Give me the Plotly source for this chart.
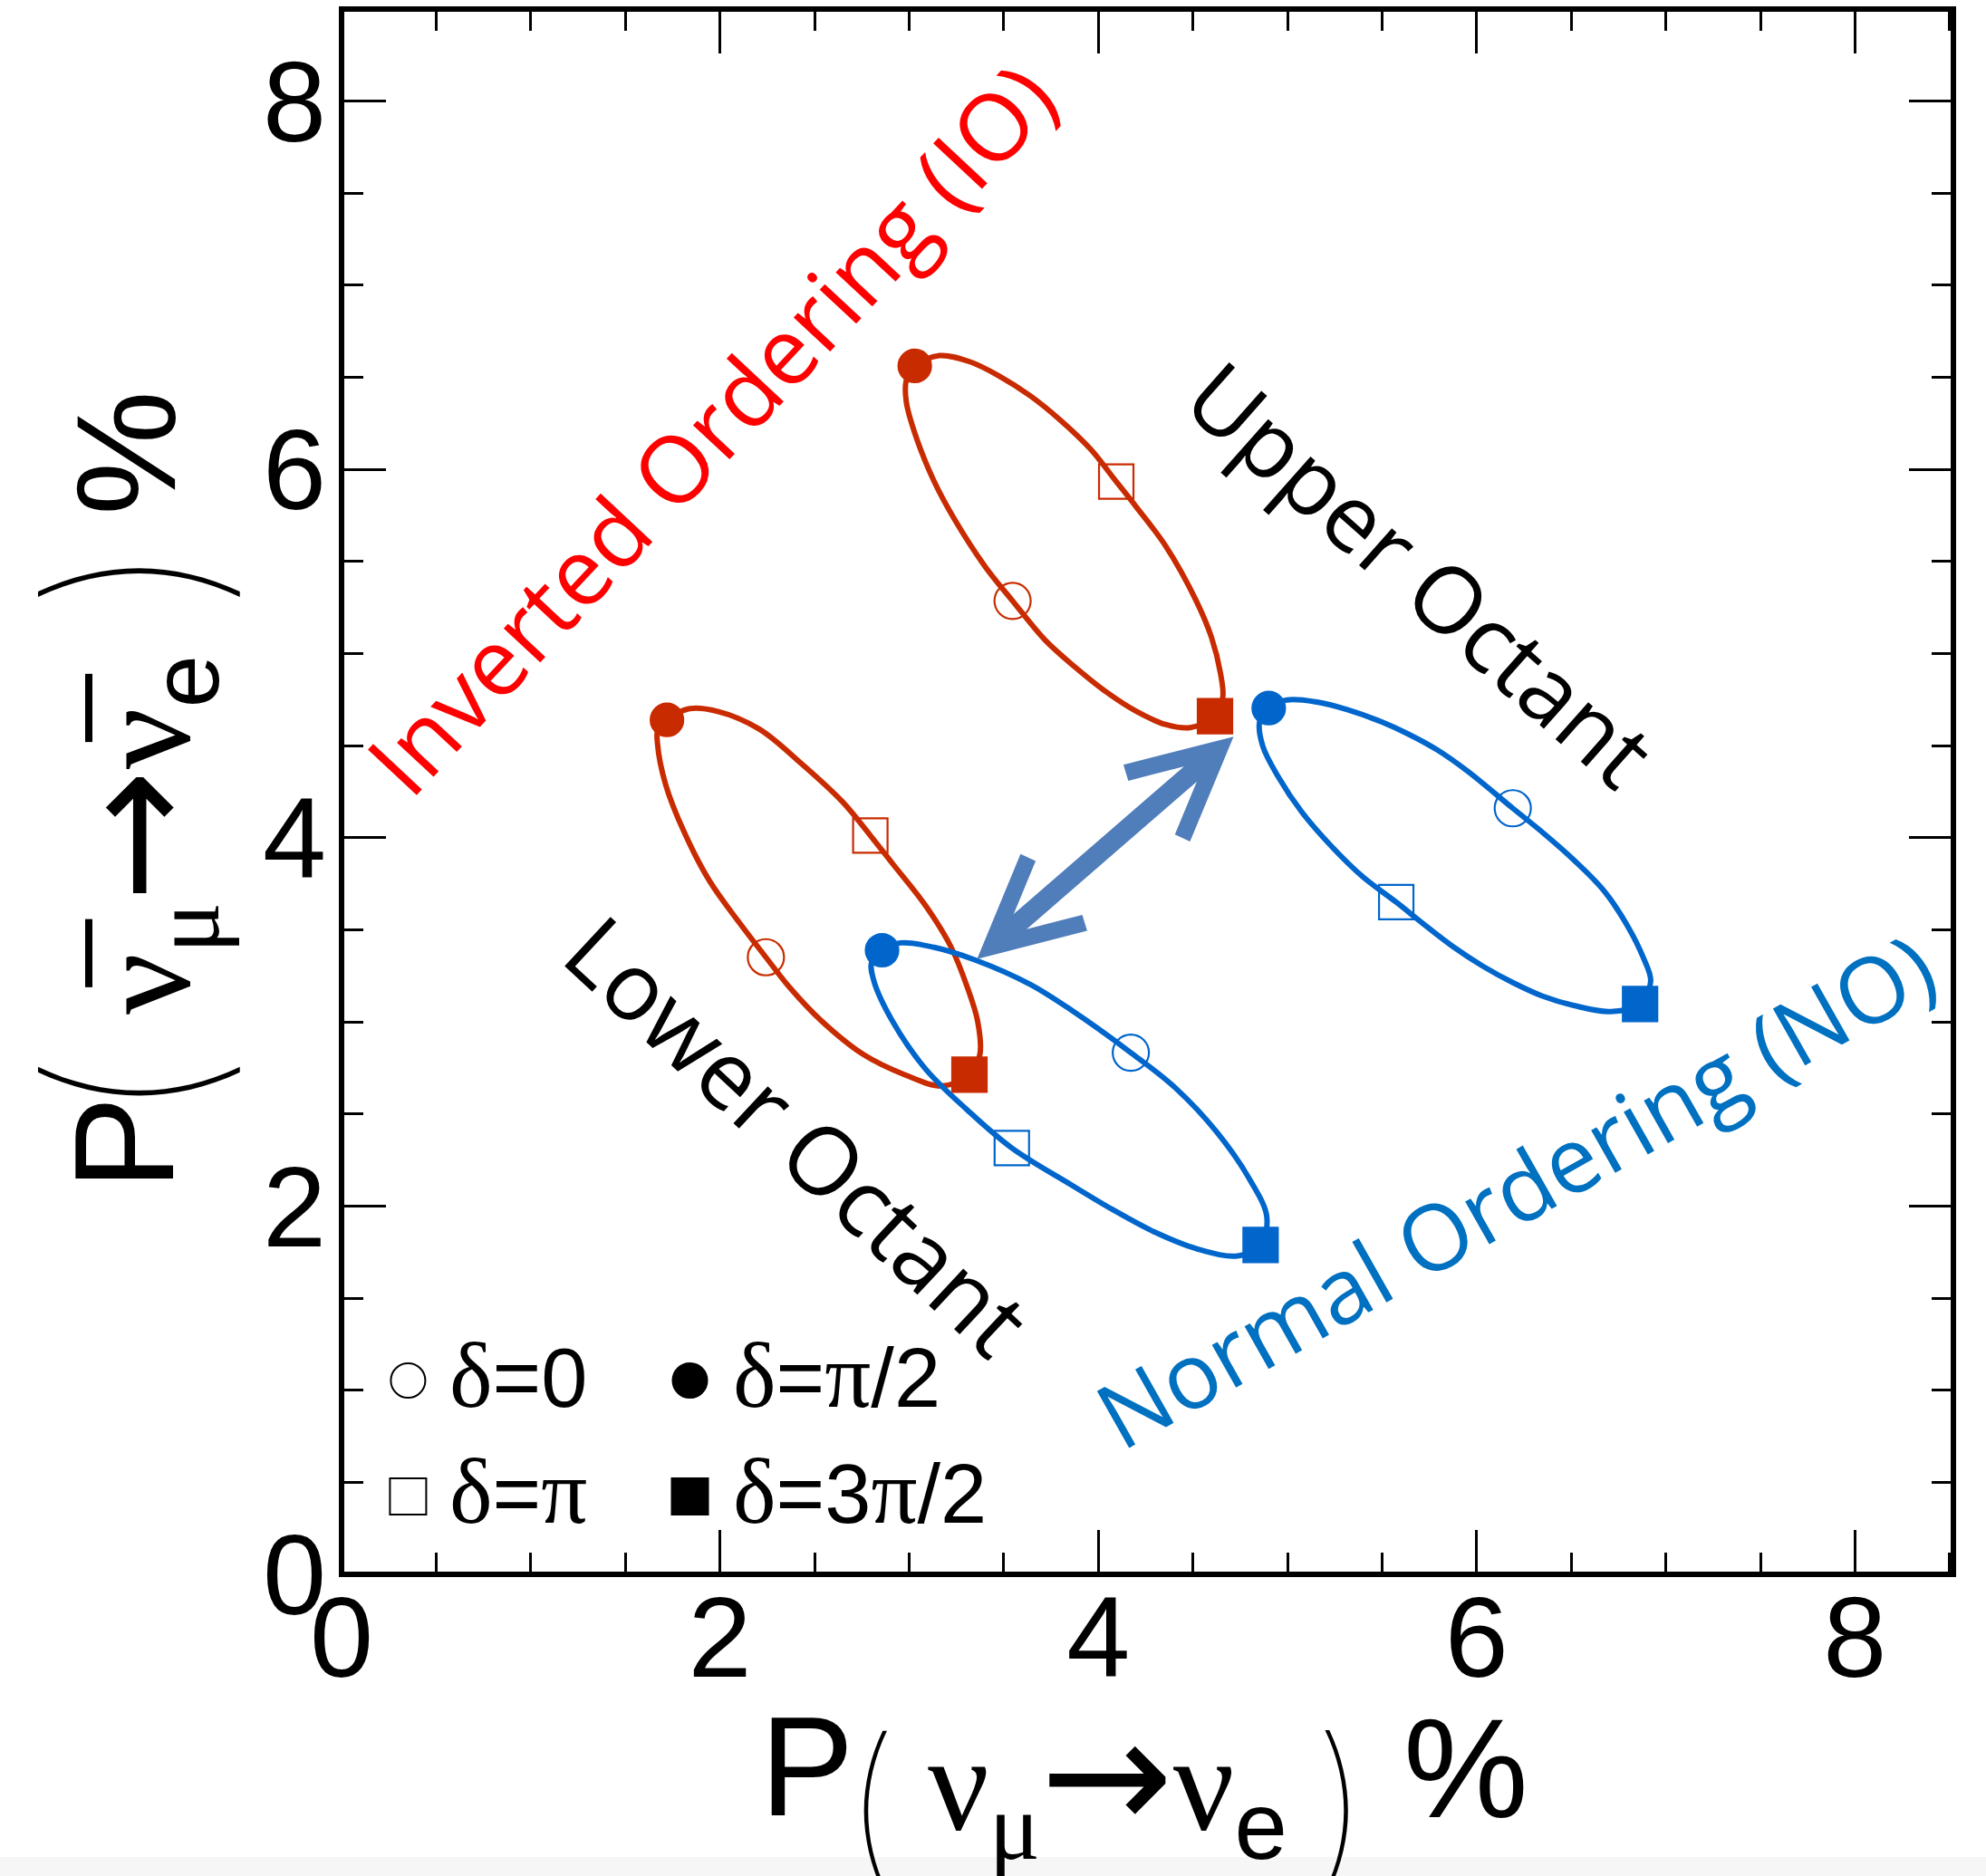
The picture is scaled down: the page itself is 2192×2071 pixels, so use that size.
import plotly.graph_objects as go

# ---------------- data (in %) ----------------
# Each ellipse is a closed loop, starting at delta = pi/2 and going clockwise.
io_upper_x = [3.030, 3.161, 3.320, 3.480, 3.640, 3.799, 3.959, 4.095, 4.198, 4.358, 4.518, 4.598, 4.646, 4.658,
              4.617, 4.486, 4.358, 4.198, 4.039, 3.879, 3.719, 3.547, 3.400, 3.240, 3.129, 3.033, 2.985, 2.985, 3.030]
io_upper_y = [6.562, 6.618, 6.585, 6.505, 6.400, 6.268, 6.110, 5.934, 5.800, 5.581, 5.286, 5.089, 4.893, 4.761,
              4.660, 4.598, 4.614, 4.688, 4.794, 4.925, 5.073, 5.286, 5.475, 5.729, 5.942, 6.188, 6.368, 6.483, 6.562]

io_lower_x = [1.720, 1.834, 1.988, 2.208, 2.428, 2.648, 2.795, 2.912, 3.088, 3.220, 3.307, 3.363, 3.374,
              3.319, 3.176, 2.977, 2.758, 2.538, 2.362, 2.243, 2.098, 1.944, 1.812, 1.713, 1.670, 1.672, 1.720]
io_lower_y = [4.640, 4.700, 4.686, 4.590, 4.405, 4.195, 4.012, 3.860, 3.630, 3.410, 3.190, 3.000, 2.823,
              2.713, 2.652, 2.713, 2.823, 3.004, 3.195, 3.351, 3.545, 3.767, 4.028, 4.289, 4.510, 4.590, 4.640]

no_upper_x = [4.901, 4.997, 5.156, 5.316, 5.476, 5.635, 5.795, 5.954, 6.191, 6.353, 6.513, 6.673, 6.801, 6.880, 6.920,
              6.864, 6.705, 6.513, 6.353, 6.194, 6.034, 5.875, 5.715, 5.575, 5.396, 5.236, 5.077, 4.949, 4.869, 4.853, 4.901]
no_upper_y = [4.704, 4.748, 4.737, 4.696, 4.638, 4.565, 4.475, 4.360, 4.160, 4.025, 3.880, 3.712, 3.515, 3.351, 3.220,
              3.097, 3.056, 3.089, 3.138, 3.212, 3.302, 3.409, 3.535, 3.650, 3.790, 3.950, 4.138, 4.335, 4.499, 4.630, 4.704]

no_lower_x = [2.857, 2.955, 3.132, 3.352, 3.637, 3.857, 4.172, 4.407, 4.627, 4.803, 4.891,
              4.858, 4.737, 4.517, 4.297, 4.077, 3.857, 3.543, 3.307, 3.088, 2.912, 2.813, 2.802, 2.857]
no_lower_y = [3.389, 3.429, 3.405, 3.335, 3.205, 3.064, 2.833, 2.642, 2.401, 2.140, 1.940,
              1.789, 1.729, 1.769, 1.859, 1.980, 2.115, 2.315, 2.522, 2.743, 3.004, 3.225, 3.325, 3.389]

# delta markers, order: delta = 0, pi/2, pi, 3pi/2
delta_labels = ["δ=0", "δ=π/2", "δ=π", "δ=3π/2"]
io_upper_delta_x = [3.547, 3.030, 4.095, 4.617]
io_upper_delta_y = [5.286, 6.562, 5.934, 4.660]
io_lower_delta_x = [2.243, 1.720, 2.795, 3.319]
io_lower_delta_y = [3.351, 4.640, 4.012, 2.713]
no_upper_delta_x = [6.191, 4.901, 5.575, 6.864]
no_upper_delta_y = [4.160, 4.704, 3.650, 3.097]
no_lower_delta_x = [4.172, 2.857, 3.543, 4.858]
no_lower_delta_y = [2.833, 3.389, 2.315, 1.789]

# double arrow between the octants (tail/head tips)
arrow_sw = [3.352, 3.335]
arrow_ne = [4.715, 4.549]

x_tick_vals = [0, 2, 4, 6, 8]
x_tick_text = ["0", "2", "4", "6", "8"]
y_tick_vals = [0, 2, 4, 6, 8]
y_tick_text = ["0", "2", "4", "6", "8"]

# ---------------- styling ----------------
RED = "#C92B00"
BLUE = "#0066CC"
ARROW = "#507EBA"
W, H = 2192, 2071
ML, MR, MT, MB = 377, 36, 10, 333
PW, PH = W - ML - MR, H - MT - MB


def px_x(p):
    return (p - ML) / PW


def px_y(p):
    return (H - MB - p) / PH


SYMBOLS = ["circle-open", "circle", "square-open", "square"]
SIZES = [40, 36, 38, 38]

fig = go.Figure()

ellipses = [
    (io_upper_x, io_upper_y, io_upper_delta_x, io_upper_delta_y, RED),
    (io_lower_x, io_lower_y, io_lower_delta_x, io_lower_delta_y, RED),
    (no_upper_x, no_upper_y, no_upper_delta_x, no_upper_delta_y, BLUE),
    (no_lower_x, no_lower_y, no_lower_delta_x, no_lower_delta_y, BLUE),
]
for cx, cy, mx, my, col in ellipses:
    fig.add_trace(go.Scatter(x=cx, y=cy, mode="lines",
                             line=dict(color=col, width=6, shape="spline", smoothing=1),
                             hoverinfo="skip", showlegend=False))
for cx, cy, mx, my, col in ellipses:
    fig.add_trace(go.Scatter(x=mx, y=my, mode="markers", text=delta_labels,
                             marker=dict(symbol=SYMBOLS, size=SIZES, color=col, opacity=1,
                                         line=dict(color=col, width=2.2)),
                             showlegend=False))

axis_common = dict(
    showline=False, showgrid=False, zeroline=False,
    ticks="inside", ticklen=49, tickwidth=3, tickcolor="black", mirror="ticks",
    minor=dict(ticks="inside", ticklen=24, tickwidth=3, tickcolor="black",
               tickmode="linear", tick0=0, dtick=0.5, showgrid=False),
    tickfont=dict(family="Liberation Sans", size=126, color="black"),
    tickmode="array",
)
fig.update_xaxes(range=[0, PW / 208.8], tickvals=x_tick_vals, ticktext=x_tick_text,
                 ticklabelstandoff=-14, **axis_common)
fig.update_yaxes(range=[0, PH / 203.3], tickvals=y_tick_vals, ticktext=y_tick_text,
                 ticklabelstandoff=16, **axis_common)

shapes = [
    # frame
    dict(type="rect", xref="paper", yref="paper", x0=0, x1=1, y0=0, y1=1,
         line=dict(color="black", width=6), layer="above"),
    # light strip at the bottom of the image
    dict(type="rect", xref="paper", yref="paper", x0=px_x(0), x1=px_x(W), y0=px_y(H), y1=px_y(2050),
         line=dict(width=0), fillcolor="#F6F6F6", layer="below"),
]
# legend keys
key_rows = [1524, 1652]
key_cols = [450.4, 761.5]
key_defs = [(0, 0, "circle", "white"), (0, 1, "circle", "black"),
            (1, 0, "rect", "white"), (1, 1, "rect", "black")]
for r, c, typ, fill in key_defs:
    half = 19 if typ == "circle" else 20
    shapes.append(dict(type=typ, xref="paper", yref="paper", xsizemode="pixel", ysizemode="pixel",
                       xanchor=px_x(key_cols[c]), yanchor=px_y(key_rows[r]),
                       x0=-half, x1=half, y0=-half, y1=half,
                       line=dict(color="black", width=2), fillcolor=fill, layer="above"))


def delta_text(label):
    out = ""
    for ch in label:
        if ch in "δπ":
            out += '<span style="font-family:Liberation Serif;font-size:101px">' + ch + "</span>"
        else:
            out += ch
    return out


annotations = []
# legend texts
text_cols = [494, 807]
text_rows = [1519, 1647]
order = [(0, 0), (0, 1), (1, 0), (1, 1)]
for lab, (r, c) in zip(delta_labels, order):
    annotations.append(dict(xref="paper", yref="paper", x=px_x(text_cols[c]), y=px_y(text_rows[r]),
                            xanchor="left", yanchor="middle", showarrow=False,
                            text=delta_text(lab),
                            font=dict(family="Liberation Sans", size=92, color="black")))

# double arrow
annotations.append(dict(x=arrow_ne[0], y=arrow_ne[1], ax=arrow_sw[0], ay=arrow_sw[1],
                        xref="x", yref="y", axref="x", ayref="y", text="", showarrow=True,
                        arrowside="end+start", arrowhead=5, startarrowhead=5,
                        arrowsize=0.85, startarrowsize=0.85, arrowwidth=22, arrowcolor=ARROW,
                        standoff=0, startstandoff=0))

# rotated labels
annotations += [
    dict(x=1.946, y=6.227, xref="x", yref="y", text="Inverted Ordering (IO)", textangle=-47,
         xanchor="center", yanchor="middle",
         showarrow=False, font=dict(family="Open Sans", size=103, color="#FF0000")),
    dict(x=5.71, y=5.44, xref="x", yref="y", text="Upper Octant", textangle=41.5,
         xanchor="center", yanchor="middle",
         showarrow=False, font=dict(family="Open Sans", size=102, color="black")),
    dict(x=2.42, y=2.39, xref="x", yref="y", text="Lower Octant", textangle=43,
         xanchor="center", yanchor="middle",
         showarrow=False, font=dict(family="Open Sans", size=104, color="black")),
    dict(x=6.20, y=2.09, xref="x", yref="y", text="Normal Ordering (NO)", textangle=-29.5,
         xanchor="center", yanchor="middle",
         showarrow=False, font=dict(family="Open Sans", size=101, color="#0070C0")),
]

SANS_E = '<span style="font-family:Liberation Sans">e</span>'
ARR = '<span style="font-family:DejaVu Sans;font-size:175px">→</span>'
NU_BAR = "ν\u0305"
PAREN_FONT = dict(family="Inter", size=195, color="black", weight=100)
YPAREN_FONT = dict(family="Inter", size=245, color="black", weight=100)


def title_piece(px, py, text, font, angle=0):
    return dict(xref="paper", yref="paper", x=px_x(px), y=px_y(py), text=text, textangle=angle,
                xanchor="center", yanchor="middle", showarrow=False, font=font)


SANS_T = dict(family="Liberation Sans", size=155, color="black")
SERIF_T = dict(family="Liberation Serif", size=150, color="black")

# x-axis title pieces
annotations += [
    title_piece(890, 1950, "P", SANS_T),
    title_piece(962, 1990, "(", PAREN_FONT),
    title_piece(1222, 1966, "ν<sub>μ</sub>" + ARR + "ν<sub>" + SANS_E + "</sub>", SERIF_T),
    title_piece(1480, 1990, ")", PAREN_FONT),
    title_piece(1618, 1952, "%", SANS_T),
]
# y-axis title pieces (rotated)
annotations += [
    title_piece(136.7, 1262, "P", SANS_T, -90),
    title_piece(142, 1200, "(", YPAREN_FONT, -90),
    title_piece(155, 922, NU_BAR + "<sub>μ</sub>" + ARR + NU_BAR + "<sub>" + SANS_E + "</sub>", SERIF_T, -90),
    title_piece(142, 638, ")", YPAREN_FONT, -90),
    title_piece(140, 500, "%", SANS_T, -90),
]

fig.update_layout(
    width=W, height=H,
    margin=dict(l=ML, r=MR, t=MT, b=MB, pad=0),
    plot_bgcolor="white", paper_bgcolor="white",
    font=dict(family="Liberation Sans", color="black"),
    shapes=shapes, annotations=annotations, showlegend=False,
)

fig.write_html("out.html")
